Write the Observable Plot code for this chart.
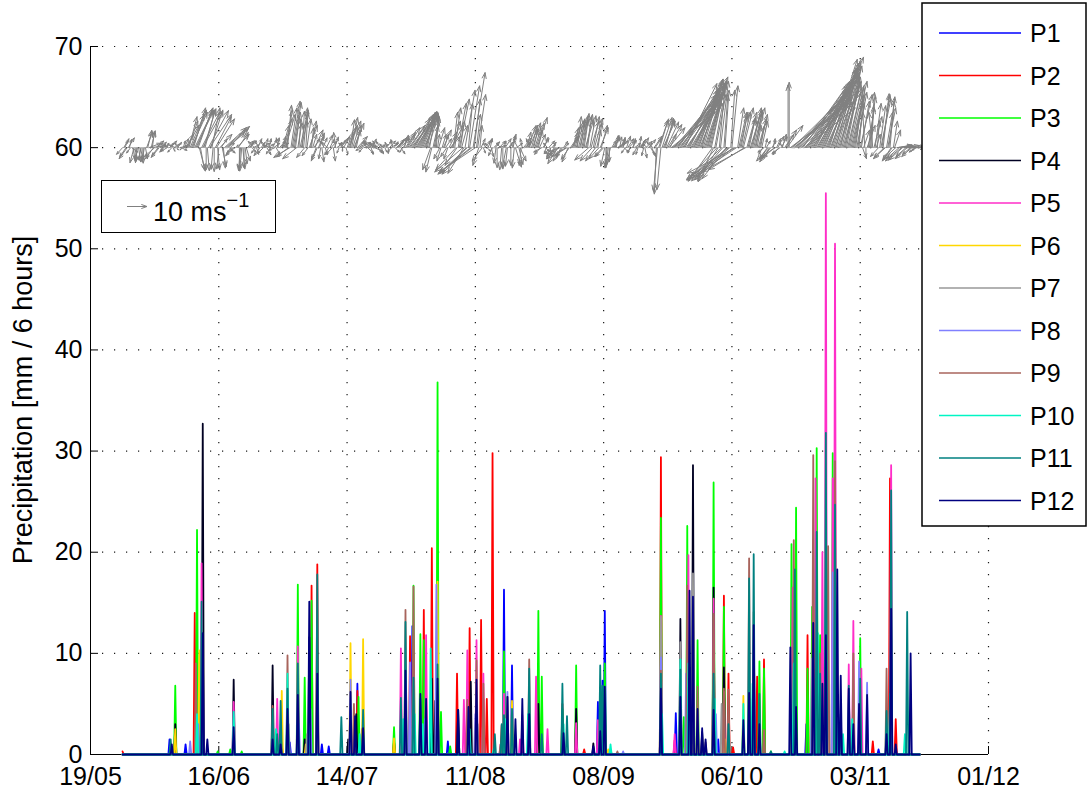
<!DOCTYPE html>
<html>
<head>
<meta charset="utf-8">
<script src="https://cdn.jsdelivr.net/npm/d3@7"></script>
<script src="https://cdn.jsdelivr.net/npm/@observablehq/plot@0.6"></script>
<style>
  body { margin: 0; background: #fff; }
  #chart { position: relative; width: 1088px; height: 794px; }
</style>
</head>
<body>
<div id="chart"></div>
<script>
// ---- axes ----
const year = 2010;
const xTickLabels = ["19/05", "16/06", "14/07", "11/08", "08/09", "06/10", "03/11", "01/12"];
const yTicks = [0, 10, 20, 30, 40, 50, 60, 70];

// ---- stations ----
const seriesNames = ["P1", "P2", "P3", "P4", "P5", "P6", "P7", "P8", "P9", "P10", "P11", "P12"];
const seriesColors = ["#0000ff", "#ff0000", "#00ff00", "#000022", "#ff2ec8", "#ffd700",
                      "#999999", "#8080ff", "#a8645c", "#00f5c4", "#008080", "#000080"];

// 6-hourly record, days counted from 19/05 00:00
const recordStart = 7, recordEnd = 181;

// rainy 6-h periods per station: [day, mm / 6 h]; all other periods are dry
const P1 = [[17.25,1.5],[20.75,1.0],[24,4.0],[43.5,1.2],[50.5,1.0],[52,0.8],[58.25,7.0],[70.25,12.7],[78,1.3],
  [90.25,16.3],[92,8.8],[110.75,5.2],[111.75,7.3],[112.25,14.2],[127.75,4.1],[131,3.0],[137,1.5],[156.25,3.0],
  [159.75,6.8],[172,0.5]];
const P2 = [[7,0.3],[22.75,14.0],[41.75,1.0],[48.25,16.7],[49.5,18.8],[58.25,6.3],[59.25,2.5],[69.75,11.7],
  [72.75,14.3],[74.5,20.4],[80,8.0],[82.75,12.5],[85.25,13.3],[85.75,5.5],[86.5,5.5],[87.75,29.8],
  [89.75,2.9],[97.75,5.0],[103,5.0],[107.75,0.5],[113.5,0.5],[124.5,29.4],[127.5,1.4],[130.5,4.7],
  [131.5,4.7],[138.25,15.7],[139.25,8.0],[140.25,0.7],[145.5,7.7],[147,9.4],[156.5,11.8],[160.5,3.0],
  [170.75,1.3],[174.5,27.3],[175.75,3.5]];
const P3 = [[18.5,6.8],[23.25,22.2],[27.75,0.3],[30.5,0.5],[33,0.3],[45.25,16.8],[46.75,7.6],[48.25,15.2],
  [58.5,5.7],[66.25,2.7],[70.5,16.7],[72,11.9],[72.75,11.3],[75.75,36.8],[76.5,4.2],[78.5,0.8],[80.25,2.7],
  [90.25,10.2],[97.75,14.2],[98.5,7.7],[103,4.5],[106,8.8],[112.25,9.0],[124.5,23.4],[129.5,3.7],
  [130.25,22.6],[132.5,11.3],[136,26.9],[138.25,14.6],[146,9.2],[147,8.5],[148.5,0.3],[153,20.8],
  [154,24.4],[156.5,8.5],[157.5,14.6],[158.5,30.3],[159.25,11.8],[162,29.8],[168,11.5]];
const P4 = [[18.5,3.0],[24.5,32.7],[31.25,7.4],[39.75,8.8],[46.75,1.5],[47.75,11.6],[56.25,1.5],[58,4.0],
  [66.25,1.3],[74.5,7.5],[75.25,5.3],[80.25,4.4],[83,7.2],[94.25,1.0],[97.75,5.0],[106,4.5],[109.75,1.1],
  [128.75,13.4],[131.5,28.6],[133.5,2.2],[136,16.5],[138.25,8.6]];
const P5 = [[24.25,18.9],[31.25,5.2],[40.75,5.5],[45.25,10.7],[59.5,1.5],[67.75,10.5],[73.25,11.8],
  [81.5,5.4],[82.25,10.3],[84.25,11.3],[85.75,8.0],[89.5,1.0],[90.25,6.0],[93.75,1.5],[94.25,3.9],
  [97.25,7.7],[99.75,2.5],[106,3.1],[110.75,3.4],[124.5,13.7],[127.5,2.0],[130.5,19.7],[136,15.4],
  [138.25,6.2],[153.25,16.5],[158.25,27.3],[159.75,20.0],[160.5,55.5],[162,27.3],[162.5,50.5],
  [165.5,8.9],[166.5,13.2],[168.25,8.5],[174.75,28.6]];
const P6 = [[18.5,2.5],[23.75,10.3],[40.75,1.2],[41.75,6.3],[47,1.0],[56.75,11.0],[59.5,11.4],[66.25,1.6],
  [70.25,2.5],[75.75,17.1],[82.5,1.5],[90.75,3.5],[92,5.3],[113,0.5],[131.25,1.0],[138.5,1.5],[142.5,5.8],
  [159,2.0]];
const P7 = [[24.25,5.0],[43.25,3.0],[47.25,2.0],[69.75,4.5],[75.75,6.0],[84.5,3.0],[124.5,13.6],[128.75,11.1],
  [131.5,17.9],[137.75,5.0],[153.25,8.0],[161,8.0],[174.75,6.0]];
const P8 = [[17.5,0.8],[21.75,1.3],[23.5,3.0],[45.5,3.0],[48,4.5],[56.75,7.4],[69.75,9.1],[73,3.5],[75.5,16.8],
  [84,4.0],[91,6.2],[116.25,0.3],[124.5,9.6],[130,8.0],[136.5,4.0],[144,5.5],[153.75,7.0],[157.5,9.5],
  [162,18.0],[167.75,9.2],[169.5,7.1],[174.5,5.0]];
const P9 = [[23,9.0],[31.25,1.2],[39.75,4.8],[43,9.8],[57.5,5.0],[68.75,14.3],[70.5,16.6],[75.75,6.2],
  [82.25,5.4],[84.25,9.3],[85.75,7.0],[89.5,1.0],[91,5.7],[95.75,9.4],[115,0.3],[124.5,8.3],[130.25,16.7],
  [132.5,6.7],[134.25,1.2],[136,13.9],[138.25,6.5],[139.25,6.4],[143.75,19.4],[144.75,14.1],[147,2.4],
  [153.5,21.2],[157.75,29.6],[159.25,10.0],[161,20.6],[162.5,29.0],[166.5,10.0],[173.75,8.5]];
const P10 = [[23.25,4.0],[31.25,4.2],[40.5,2.5],[43,8.0],[45.25,3.0],[47.75,3.0],[58.75,2.0],[68.25,3.5],
  [70.75,4.0],[72.5,3.0],[74.25,10.5],[82.75,2.5],[88,0.5],[90.5,3.5],[95.5,4.0],[103.25,3.0],[111.5,4.5],
  [113.5,1.0],[124.75,4.0],[128.75,9.4],[130.5,9.0],[136.25,5.5],[142.5,5.0],[144.5,7.0],[151.5,0.3],
  [153.5,9.0],[158.75,12.0],[160.5,18.0],[162.75,10.0],[164.25,2.0],[166.25,3.5],[174.5,6.0],[177.75,2.0]];
const P11 = [[17.5,1.5],[24.25,15.1],[39.75,4.5],[40.75,2.0],[41.5,5.3],[43,6.5],[45.25,9.0],[49.5,17.8],
  [54.75,3.7],[59.5,4.4],[67.75,5.6],[68.75,13.1],[70.5,7.6],[72,5.5],[75.75,8.9],[88.25,2.0],[89.75,3.0],
  [90.25,3.9],[92,4.5],[95.75,8.5],[98.5,2.0],[103,7.0],[104,3.8],[111.25,8.8],[111.75,6.8],[124.5,8.0],
  [128.75,8.4],[136,8.0],[139.25,3.0],[143.75,17.4],[144.75,19.8],[146,6.0],[148.5,0.3],[153.75,18.3],
  [158.5,22.0],[159.25,8.0],[160.5,31.8],[162.5,24.7],[163.75,4.0],[165.5,6.8],[168,7.5],[173.75,4.3],
  [174.75,26.1],[178.25,14.1]];
const P12 = [[17.75,1.0],[24.5,12.0],[25.5,1.5],[31.25,2.7],[39.75,1.5],[41.5,1.0],[43,4.5],[45.25,5.9],
  [47.75,15.1],[49.5,8.0],[56.75,6.2],[57.75,3.8],[59.5,2.6],[68.75,8.3],[72,6.0],[73.25,5.5],[75.75,7.5],
  [80.25,4.4],[82.5,4.7],[84.25,7.4],[91,5.7],[92.75,3.5],[94.25,5.5],[95.75,4.0],[103.25,2.1],
  [109.75,0.8],[111.25,2.3],[112.25,6.7],[124.5,6.5],[128.75,5.7],[130.75,16.2],[131.5,15.6],[132.5,4.5],
  [133.5,2.6],[134.25,1.5],[136,4.4],[142.5,3.4],[143.75,6.1],[144.75,12.8],[146,3.0],[152.75,10.6],
  [154,4.7],[157.75,13.0],[159.75,7.0],[160.5,11.8],[163,18.3],[163.75,7.8],[165.5,6.5],[166.5,3.0],
  [167.75,5.0],[169.5,5.9],[173.75,2.0],[174.75,14.4],[175.75,1.0],[179,10.0]];
const stations = [P1, P2, P3, P4, P5, P6, P7, P8, P9, P10, P11, P12];

// ---- wind (m/s), from day 7 ----
// windU / windV: 00 and 12 UTC; windU2 / windV2: 06 and 18 UTC
const windStart = 7;
const windU = [
  -3, 2, -4, 1, 3, -2, 0, 1, -1, 0,
  1, 2, 8, 1, -5, 3, -4, 2, -2, 1,
  -2, 3, 1, -3, 2, 4, -1, 2, 6, 4,
  8, 6, 9, 7, 2, 10, 5, 1, 11, 4,
  0, 9, -1, 3, 1, 12, 10, 2, -3, -2,
  6, 0, -1, 0, 2, 4, 1, 3, -2, 2,
  -3, 4, -2, 2, 1, -4, 3, 2, -1, 4,
  3, 5, 2, -8, 4, 3, -7, 1, 3, 2,
  1, -3, 3, 2, 4, -3, 2, 1, -2, 3,
  -2, 3, 1, -1, 2, 4, 0, -3, 3, 4,
  3, 5, 2, 4, 5, -2, 6, 3, -3, 2,
  4, -2, 3, 1, -2, 3, 0, 4, -1, 2,
  3, 5, -1, 2, 4, 8, 12, 10, 11, 9,
  8, 6, 5, 4, 3, -3, 2, 1, 3, -2,
  4, 3, -2, 5, 4, 3, -6, 5, 3, -8,
  -12, 2, -16, 6, -18, 4, 1, -5, 3, 2,
  -2, 1, 3, -1, 4, -2, 0, 3, -1, 1,
  2, -1, 3, 2, -1, 4, 3, 4, -2, 4,
  3, 5, 3, -4, 2, -1, 3, -2, 1, -3,
  -5, -8, -3, 2, -6, -4, 3, 2, 4, 3,
  2, 3, 4, 2, 3, -6, 4, 2, -5, 3,
  -4, 0, -1, -2, 3, 2, 4, 1, 3, 2,
  2, 3, -2, 1, 4, -1, 2, 3, 1, -2,
  3, 2, 4, -1, 5, -2, 6, 4, 7, 3,
  24, 22, 20, 18, 21, 17, 15, 19, 14, 16,
  13, 10, 14, 8, 11, 9, 6, 7, -8, 5,
  -10, 4, -14, 2, -17, -19, 3, -22, -20, 4,
  3, 5, -22, 4, 6, 3, 5, 2, 4, 3,
  -3, 2, -6, -5, 1, -7, 3, -4, 2, 6,
  8, 0, 30, 26, 28, 24, 27, 22, 25, 20,
  24, 19, 23, 18, 21, 16, 20, 17, 15, 14,
  13, 12, 11, 9, 10, 8, 7, 6, 8, 5,
  4, 3, 6, 2, -1, 4, 3, 1, 4, 2,
  -4, 5, 3, -6, 4, 2, -5, 3, 8, -6,
  -8, 6, -5, 9, -4, 8, -3, 1];
const windV = [
  -1.5, 2, -2.5, 1.8, -1, -3.4, -3, -3.2, -2.8, -3.5,
  -2.5, 3.9, 0.4, 3.5, -2, 1, -2.2, 0.8, -1, 0.5,
  0.5, 1.5, -0.8, 0.6, 1.2, 0.4, -0.5, 2, 5, 7,
  8, 9, 8.5, 8.8, -5, 8.2, 8.6, -5.2, 7.5, 9,
  -5.4, 6.5, -4.8, 2, -4.6, 4.8, 4.2, 1, -1.5, -0.8,
  3, -5, -5.3, -4.5, -3, 1.5, 1, 0.6, -1.2, 2,
  -1.8, 1, 1.5, -1.6, 2, 0.5, 1, -1.5, 2.2, 1,
  5, 7.5, 9.6, -2.2, 10.5, 8, -2.5, 6.5, 6, 9,
  7.8, -1.8, 6, 3, 4, -3, 2.5, -3.2, 1.5, 2.8,
  -1.6, 1.5, -3, 3.4, 1.2, 2, -0.8, 1, 3.5, 5,
  6.8, 5.5, 4, 1, 1.2, -1, 0.3, -1.3, 1.6, 1.9,
  -0.8, 1.5, 0.6, -1.4, 0.8, 1.5, -1.3, 1, 1.8, -1,
  1.4, 2, -1, 2.8, 3, 5, 7, 7.5, 8, 7.8,
  8, 6.5, 6, 8, 7.7, -5.5, 5, 7.5, 4.5, -3,
  4, 2, -2.5, 2.5, 6, 9, -4, 11, 5, -5.8,
  -6, 10, -5.7, 17, -5.5, 12, 5, -3, 1.5, -0.8,
  1, -2, 1.3, -3.5, 0.5, 1, -4.8, 2, -4.2, 0.8,
  3, -4.6, 1, -3.8, -4, 2.2, 1.5, 5, 2, 5.6,
  4.4, 6.8, 3, -1, 2.3, -1.2, 1.5, -2, 0.6, -1.7,
  -3.6, -1.3, -2.2, 1, -1.7, -2.6, 2, 3.5, 6, 5.5,
  6.5, 7.7, 6, 7, 7.2, -3, 6.6, 4, -2.5, 5,
  -2, -4.5, -4, -3.6, 2, 2.7, 1.2, 2.4, 1.6, -1,
  2.6, 1.4, -1, 2, 0.6, -1.5, 1.3, 2.2, -2.3, 0.8,
  1.8, -2, 2.6, -10.5, 6.5, -9.5, 6, 6.6, 5.2, 3,
  9, 12, 11.5, 10, 14, 13, 9.5, 15, 10.5, 12.5,
  14.5, 11, 16, 13.5, 15, 13, 11, 14.5, -7.5, 12,
  -7.7, 15, -7.3, 13, -6.8, -7.5, 14, -6.5, -6, 8,
  7.2, 9, -5.5, 7, 8.5, 6.2, 9, 5, 7.5, 6,
  -1, 1.5, -3, -2.6, 2, -2, 2.5, -1.3, 3, 4,
  5, 14.8, 11, 9.5, 13, 12, 10.5, 14, 9, 13.5,
  16, 12, 18, 14, 19, 15, 20.5, 17, 18, 16.5,
  19, 15.5, 17, 13, 18.5, 14.5, 16, 12.5, 15, 11,
  13.5, 10, 12, -2.5, 8, 5, 11.5, 9.5, 7, 3,
  -2, 11, 12.2, -2.5, 9, 10.5, -3, 4, 0.5, -2.4,
  -3, 0.3, -2, 0.2, -1.5, 0, -1, 0.5];
const windU2 = [
  2, -3, 3, -2, 1, 0, -1, 2, 0, -1,
  3, 6, 2, -4, 4, -3, 3, -1, 2, -3,
  2, -2, 3, 1, -2, 3, 1, 4, 5, 7,
  7, 9, 8, 3, 9, 6, 0, 10, 6, -1,
  8, 1, 6, 2, 11, 9, 3, -2, -4, 1,
  5, -1, 1, 1, 3, 2, 2, -3, 1, -2,
  2, -3, 1, 3, -2, 2, -3, 1, 3, 2,
  4, 3, -6, 3, 4, 2, 2, 4, 1, -4,
  2, 4, 1, 3, -2, 3, -1, 2, 1, -3,
  2, -3, 2, 3, -1, 2, 3, 1, 4, 2,
  4, 3, 5, 2, -3, 4, -1, 3, 1, -2,
  -3, 2, -2, 3, 1, -1, 3, -2, 2, 4,
  4, 2, 3, 5, 6, 10, 13, 9, 10, 8,
  7, 7, 4, 5, -4, 3, 2, 1, -3, 2,
  2, -3, 4, 6, 2, -10, 4, 2, -14, 5,
  -14, 5, -17, 3, 2, -3, 2, 1, -1, 2,
  1, -2, 2, 0, 3, -1, 1, -2, 2, 0,
  1, 3, -2, 3, -1, 3, 2, 4, 3, 2,
  4, 2, -3, 3, 2, -2, 1, 2, -4, -2,
  -6, -4, 2, -7, -3, 4, 3, 3, 2, 4,
  3, 2, 3, -7, 4, 3, -5, 2, 4, -4,
  -2, -1, 0, 2, 3, 1, 3, 2, 1, -2,
  3, -1, 2, 3, -2, 1, 2, -1, 3, 2,
  2, -3, 3, -2, 4, 5, 5, 6, 8, 22,
  23, 21, 19, 20, 18, 16, 17, 15, 15, 14,
  12, 12, 9, 10, 10, 7, 8, -12, 4, -15,
  3, -16, 2, -12, -21, 2, -18, -24, 3, 4,
  4, -18, 5, 3, 5, 4, 3, 4, 2, -2,
  1, -4, -5, 2, -6, 2, -3, 3, -2, 4,
  0, 29, 27, 27, 25, 26, 23, 24, 21, 22,
  20, 22, 17, 20, 17, 19, 16, 16, 14, 12,
  12, 10, 10, 8, 9, 7, 7, 7, 6, 4,
  5, 2, 4, 3, 0, 3, 2, -2, 3, 1,
  3, 4, -5, 3, 3, -4, 2, -6, 7, 5,
  -7, 7, -6, 8, -5, 9, -2, 2];
const windV2 = [
  1.5, -2, 2.2, -1.2, -2.5, -3, -3.4, -2.6, -3.2, -2.8,
  3.6, 1, 3.8, -2.5, 1.5, -1.8, 1.2, -0.6, 1, -0.8,
  1, -1, 0.8, -0.5, 1, -0.6, 1.5, 3, 6, 7.5,
  8.5, 8.3, 9, -5.3, 8, 8.8, -5, 8.4, 8.5, -4.9,
  7, -5, 3, -4.3, 4.5, 3.5, -1.2, -1, -1.8, 0.6,
  3.4, -5.2, -4.8, -3.6, 1.5, 1.2, -1, 1.4, -1.5, 1.6,
  1.2, -1.3, 2, 0.8, -1.4, 1.8, -0.6, 2.2, 1.5, 2.5,
  6.5, 8.5, -2, 9, 10.2, 7, 5.5, 8.5, 8.2, -2.2,
  6.5, 5, 4.5, 2, -2.4, 3.3, -2.5, 2.2, -1.6, 1.2,
  1.8, -1.5, 2.4, 1, -1.2, 1.6, 2.5, -1.4, 4.5, 6.3,
  6, 5, 2.5, 1.4, -0.6, 0.8, 1.2, 1, -1.5, 1.2,
  1, -1.2, 1.4, 0.7, -1, 1.2, 1.5, -0.9, 1.3, 1.8,
  2.2, -1.4, 2.5, 3.5, 4.5, 6.5, 7.8, 7.2, 8.2, 7.5,
  7.5, 7, 6.8, 7.5, -5, 6.2, 7, 3, -2.5, 3,
  3, -2, 3.5, 5, 8, -5, 10, 6, -5.5, 13,
  -5.8, 14, -6, 11, 7.5, -4, 2, -1.2, 1, 2,
  2, -1.8, 0.8, -4.5, 1.5, -5, 1.4, -4.6, 1.2, -4,
  2.5, -4.4, 1.8, -3, 2, 1.2, 3.5, 4.2, 5, 4,
  5.5, 4, -1.5, 2, -0.8, 1, -1.8, 1.2, -2.5, -1,
  -2.5, -3, 1.4, -2, -3.2, 2.6, 4.5, 5, 7, 6.4,
  7, 6.2, 7.5, -2.8, 6, 7, -3, 5.5, 4.5, -2,
  -4.2, -4.6, -3.2, 1.5, 2.4, 2.7, 0.8, 2, 2.3, -1.2,
  2, -1.2, 1.6, 1, -1.6, 2.5, 1.8, -1.8, 1.4, 1,
  -1.5, 1.2, 2, -9.8, 6, 6.8, 6.3, 5.8, 4.5, 8,
  11, 10.5, 12, 13, 11, 14.5, 12, 13.5, 11.5, 15,
  13, 15.5, 12, 15.5, 14, 12.5, 15, -7.6, 10, -7.4,
  14.5, -7, 12, -7, -7.2, 13, -6.7, -5.8, 9, 8,
  8, -5, 8, 6.5, 9, 7.5, 8, 6.5, 5, -1.5,
  2, -2.5, -3.2, 1.5, -2.4, 2, -1.6, 2.4, 1, 3,
  14.2, 10, 12, 11, 13, 11.5, 13, 10, 14.5, 15,
  13, 17, 15, 18, 16, 19.5, 18, 17, 20, 17.5,
  16.5, 18, 14, 17.5, 15, 15.5, 13.5, 14, 12, 10,
  12.5, 11, 10.5, 4, -2, 9, 12.5, 8, 10, 6,
  9.5, 12, -2.2, 8, 11.5, -2.8, 6, -2.5, 0.6, 0.4,
  -2.8, 0.5, -2.5, 0, -2, 0.3, -0.6, 0.3];
const windBaseline = 60;   // arrows are drawn from the 60 mm line
const quiverScale = 0.436; // days (x) and mm (y) per m/s
const keySpeed = 10;       // m/s shown in the key

// ---- build tables ----
const t0 = Date.UTC(year, 4, 19);
const dayToDate = (d) => new Date(t0 + d * 864e5);
const parseTick = (s) => { const [dd, mm] = s.split("/").map(Number); return new Date(Date.UTC(year, mm - 1, dd)); };
const xTicks = xTickLabels.map(parseTick);

const precip = [];
stations.forEach((events, k) => {
  const wet = new Map(events.map(([d, v]) => [Math.round(d * 4), v]));
  for (let q = recordStart * 4; q <= recordEnd * 4; q++) {
    precip.push({series: seriesNames[k], date: dayToDate(q / 4), mm: wet.get(q) ?? 0});
  }
});

const wind = [];
const addWind = (us, vs, offset) => us.forEach((u, i) => {
  const d = windStart + offset + 0.5 * i;
  wind.push({date: dayToDate(d), tip: dayToDate(d + quiverScale * u), tipY: windBaseline + quiverScale * vs[i]});
});
addWind(windU, windV, 0);
addWind(windU2, windV2, 0.25);
wind.sort((a, b) => a.date - b.date);

const font = "'Liberation Sans', Arial, Helvetica, sans-serif";
const gridStyle = {stroke: "#1a1a1a", strokeWidth: 1.2, strokeDasharray: "1.2,10.8"};

const chart = Plot.plot({
  width: 1088,
  height: 794,
  marginLeft: 90,
  marginRight: 100,
  marginTop: 46,
  marginBottom: 40,
  style: {fontFamily: font, fontSize: "25px", background: "white", color: "black"},
  x: {type: "utc", domain: [xTicks[0], xTicks[xTicks.length - 1]], ticks: xTicks,
      tickFormat: d3.utcFormat("%d/%m"), tickSize: 0, tickPadding: 13, label: null},
  y: {domain: [0, 70], ticks: yTicks, tickSize: 0, tickPadding: 8, label: null},
  color: {domain: seriesNames, range: seriesColors},
  marks: [
    Plot.ruleY(yTicks.slice(1), gridStyle),
    Plot.ruleX(xTicks.slice(1), gridStyle),
    Plot.ruleX([xTicks[0]], {stroke: "black", strokeWidth: 1}),
    Plot.ruleY([0], {stroke: "black", strokeWidth: 1}),
    Plot.tickY(yTicks, {y: (d) => d, insetRight: 890, stroke: "black"}),
    Plot.tickX(xTicks, {x: (d) => d, insetTop: 700, stroke: "black"}),
    Plot.line(precip, {x: "date", y: "mm", z: "series", stroke: "series", strokeWidth: 1.8}),
    Plot.arrow(wind, {x1: "date", y1: windBaseline, x2: "tip", y2: "tipY",
                      stroke: "#808080", strokeWidth: 1, headAngle: 40, headLength: 9})
  ]
});

const svg = d3.select(chart);
const xs = chart.scale("x");

// y-axis title
svg.append("text")
  .attr("transform", "translate(23,400) rotate(-90)")
  .attr("text-anchor", "middle")
  .attr("dominant-baseline", "central")
  .attr("font-family", font).attr("font-size", 27)
  .text("Precipitation [mm / 6 hours]");

// wind key
const keyLen = xs.apply(dayToDate(quiverScale * keySpeed)) - xs.apply(dayToDate(0));
const key = svg.append("g").attr("text-anchor", "start");
key.append("rect").attr("x", 101.5).attr("y", 180.5).attr("width", 174).attr("height", 52)
  .attr("fill", "white").attr("stroke", "black").attr("stroke-width", 1);
const kx = 127, ky = 206.5, wing = Math.min(6, keyLen / 3), ang = 20 * Math.PI / 180;
key.append("path")
  .attr("d", `M${kx},${ky}H${kx + keyLen}M${kx + keyLen - wing * Math.cos(ang)},${ky - wing * Math.sin(ang)}L${kx + keyLen},${ky}L${kx + keyLen - wing * Math.cos(ang)},${ky + wing * Math.sin(ang)}`)
  .attr("fill", "none").attr("stroke", "#808080").attr("stroke-width", 1);
const keyText = key.append("text").attr("x", 153).attr("y", 221)
  .attr("font-family", font).attr("font-size", 27).text(`${keySpeed} ms`);
keyText.append("tspan").attr("dy", -14).attr("font-size", 20).text("\u22121");

// station legend
const legend = svg.append("g").attr("font-family", font).attr("font-size", 25).attr("text-anchor", "start");
legend.append("rect").attr("x", 922).attr("y", 3).attr("width", 164).attr("height", 523)
  .attr("fill", "white").attr("stroke", "black").attr("stroke-width", 1.5);
seriesNames.forEach((name, i) => {
  const y = 33 + 42.5 * i;
  legend.append("line").attr("x1", 939).attr("x2", 1021).attr("y1", y).attr("y2", y)
    .attr("stroke", seriesColors[i]).attr("stroke-width", 1.5);
  legend.append("text").attr("x", 1030).attr("y", y).attr("dy", "0.36em").text(name);
});

document.getElementById("chart").appendChild(chart);
</script>
</body>
</html>
